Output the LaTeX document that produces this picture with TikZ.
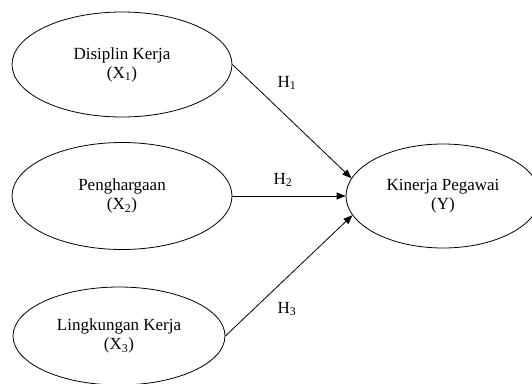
\documentclass[tikz,border=0pt]{standalone}
\usepackage{fontspec}
\setmainfont{Liberation Serif}
\usetikzlibrary{shapes.geometric,arrows.meta}

\begin{document}
\begin{tikzpicture}[x=1pt,y=-1pt,
		var/.style={draw, ellipse, line width=0.8pt, inner sep=0pt, align=center, font=\fontsize{17}{19}\selectfont},
		hyp/.style={font=\fontsize{17}{19}\selectfont},
		arr/.style={line width=0.8pt, -{Triangle[length=9pt,width=7pt]}}]
		\clip (0,0) rectangle (532,383);
		\node[var, minimum width=220pt, minimum height=105pt] (dk) at (122,64.5) {Disiplin Kerja\\(X\textsubscript{1})};
		\node[var, minimum width=220pt, minimum height=107pt] (pg) at (122,196) {Penghargaan\\(X\textsubscript{2})};
		\node[var, minimum width=212pt, minimum height=98pt] (lk) at (119,336) {Lingkungan Kerja\\(X\textsubscript{3})};
		\node[var, minimum width=194pt, minimum height=104pt] (kp) at (443,196) {Kinerja Pegawai\\(Y)};
		\node[hyp] (h1) at (287,83) {H\textsubscript{1}};
		\node[hyp] (h2) at (283,180) {H\textsubscript{2}};
		\node[hyp] (h3) at (287,309) {H\textsubscript{3}};
		\draw[arr] (dk.east) -- (kp.169);
		\draw[arr] (pg) -- (kp);
		\draw[arr] (lk.east) -- (kp.192);
	\end{tikzpicture}
\end{document}
